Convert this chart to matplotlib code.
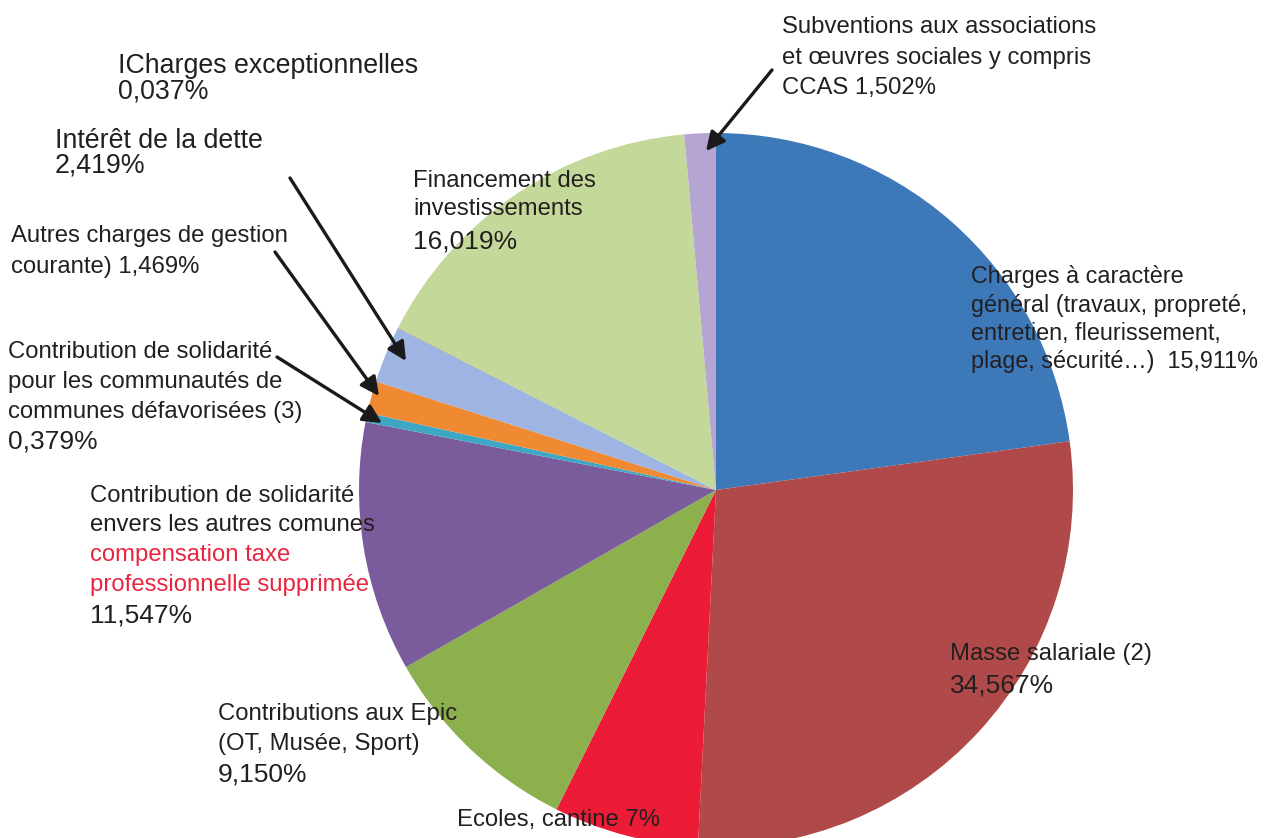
#!/usr/bin/env python3
# -*- coding: utf-8 -*-
import matplotlib
matplotlib.use('Agg')
import matplotlib.pyplot as plt

plt.rcParams['font.family'] = ['Liberation Sans', 'DejaVu Sans']

# slice shares as drawn in the picture (clockwise from the top)
postes = ['Charges à caractère général', 'Masse salariale', 'Ecoles, cantine',
          'Contributions aux Epic', 'Contribution solidarité communes',
          'Contribution solidarité communautés', 'Autres charges de gestion',
          'Intérêt de la dette', 'Charges exceptionnelles',
          'Financement des investissements', 'Subventions']
parts = [22.8, 27.96, 6.56, 9.36, 11.3, 0.42, 1.45, 2.55, 0.03, 16.06, 1.42]
couleurs = ['#3d79b8', '#b04a4a', '#ec1b36', '#8db04f', '#7a5c9c', '#3ea8c4',
            '#ef8a33', '#9eb4e2', '#888888', '#c4d899', '#b4a5d2']

W, H = 1271, 838
fig = plt.figure(figsize=(W / 100, H / 100), dpi=100)
ax = fig.add_axes([0, 0, 1, 1])

ax.pie(parts, colors=couleurs, startangle=90, counterclock=False,
       center=(716, H - 490), radius=357, frame=True,
       wedgeprops={'linewidth': 0})
ax.set_xlim(0, W)
ax.set_ylim(0, H)
ax.set_aspect('auto')
ax.axis('off')

TXT = '#231f20'
RED = '#e8253f'


def lines(x, items):
    # items: (baseline y in px from top, text, size, colour)
    for y, t, s, c in items:
        ax.text(x, H - y, t, fontsize=s, color=c, ha='left', va='baseline')


lines(782, [(33, 'Subventions aux associations', 17.2, TXT),
            (64, 'et œuvres sociales y compris', 17.2, TXT),
            (94, 'CCAS 1,502%', 17.2, TXT)])
lines(118, [(73, 'ICharges exceptionnelles', 19.3, TXT),
            (98, '0,037%', 19.3, TXT)])
lines(55, [(148, 'Intérêt de la dette', 19.3, TXT),
           (173, '2,419%', 19.3, TXT)])
lines(413, [(187, 'Financement des', 17.2, TXT),
            (215, 'investissements', 17.2, TXT),
            (248, '16,019%', 19, TXT)])
lines(11, [(242, 'Autres charges de gestion', 17.2, TXT),
           (273, 'courante) 1,469%', 17.2, TXT)])
lines(971, [(283, 'Charges à caractère', 16.8, TXT),
            (312, 'général (travaux, propreté,', 16.8, TXT),
            (340, 'entretien, fleurissement,', 16.8, TXT),
            (368, 'plage, sécurité…)  15,911%', 16.8, TXT)])
lines(8, [(358, 'Contribution de solidarité', 17.2, TXT),
          (388, 'pour les communautés de', 17.2, TXT),
          (418, 'communes défavorisées (3)', 17.2, TXT),
          (448, '0,379%', 19, TXT)])
lines(90, [(502, 'Contribution de solidarité', 17.2, TXT),
           (531, 'envers les autres comunes', 17.2, TXT),
           (561, 'compensation taxe', 17.2, RED),
           (591, 'professionnelle supprimée', 17.2, RED),
           (622, '11,547%', 19, TXT)])
lines(950, [(660, 'Masse salariale (2)', 17.2, TXT),
            (692, '34,567%', 19, TXT)])
lines(218, [(720, 'Contributions aux Epic', 17.2, TXT),
            (750, '(OT, Musée, Sport)', 17.2, TXT),
            (781, '9,150%', 19, TXT)])
lines(457, [(826, 'Ecoles, cantine 7%', 17.2, TXT)])

# arrows (tail, head) in px from the top-left corner
fleches = [((772, 70), (706, 151)),
           ((290, 178), (406, 361)),
           ((275, 252), (379, 396)),
           ((277, 357), (382, 423))]
for (x0, y0), (x1, y1) in fleches:
    ax.annotate('', xy=(x1, H - y1), xytext=(x0, H - y0),
                arrowprops=dict(arrowstyle='-|>', color='#1a1a1a', lw=2.4,
                                mutation_scale=28, shrinkA=0, shrinkB=0))

plt.savefig('out.png', dpi=100)
